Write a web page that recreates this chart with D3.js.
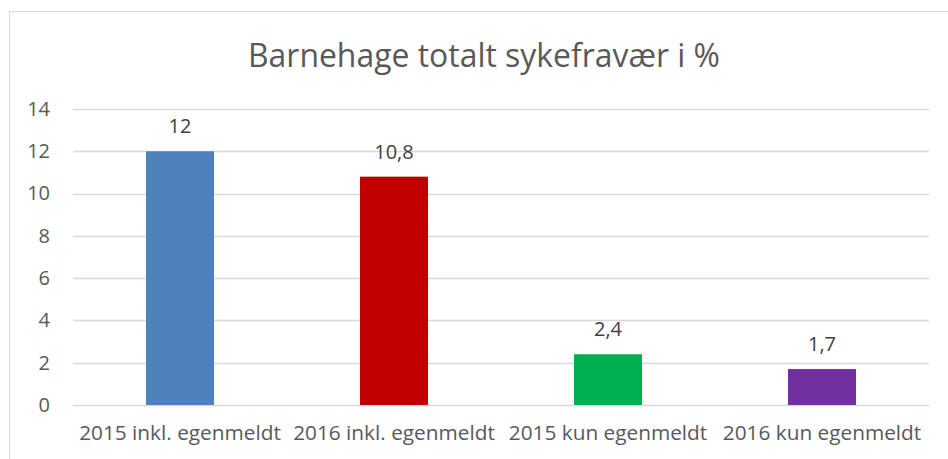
<!DOCTYPE html>
<html>
<head>
<meta charset="utf-8">
<script src="https://cdn.jsdelivr.net/npm/d3@7"></script>
<style>
  body { margin: 0; background: #fff; }
  text { font-family: "Open Sans", "Noto Sans", sans-serif; fill: #595959; }
</style>
</head>
<body>
<svg width="948" height="459"></svg>
<script>
var categories = ["2015 inkl. egenmeldt", "2016 inkl. egenmeldt", "2015 kun egenmeldt", "2016 kun egenmeldt"];
var values = [12, 10.8, 2.4, 1.7];
var valueLabels = ["12", "10,8", "2,4", "1,7"];
var barColors = ["#4f81bd", "#c00000", "#00b050", "#7030a0"];
var yTicks = [0, 2, 4, 6, 8, 10, 12, 14];
var title = "Barnehage totalt sykefravær i %";

var svg = d3.select("svg"),
    plotLeft = 73, plotRight = 929, plotTop = 109, plotBottom = 405;

// chart frame (cropped at right and bottom)
svg.append("path")
    .attr("d", "M9.5,459 V11.5 H948")
    .attr("fill", "none")
    .attr("stroke", "#d9d9d9");

var x = d3.scaleBand()
    .domain(categories)
    .range([plotLeft, plotRight])
    .paddingInner(0.682)
    .paddingOuter(0.341);

var y = d3.scaleLinear()
    .domain([0, 14])
    .range([plotBottom, plotTop]);

// gridlines
svg.append("g")
  .selectAll("line")
  .data(yTicks)
  .enter().append("line")
    .attr("x1", plotLeft).attr("x2", plotRight)
    .attr("y1", function(d) { return Math.round(y(d)) + 0.5; })
    .attr("y2", function(d) { return Math.round(y(d)) + 0.5; })
    .attr("stroke", "#d9d9d9")
    .attr("stroke-width", 1.3);

// y axis labels
var yAxis = svg.append("g")
    .attr("transform", "translate(" + plotLeft + ",0)")
    .call(d3.axisLeft(y).tickValues(yTicks).tickSize(0).tickPadding(23).tickFormat(d3.format("d")));
yAxis.select(".domain").remove();
yAxis.selectAll("text").style("font-size", "20px").attr("fill", "#595959");

// x axis labels
var xAxis = svg.append("g")
    .attr("transform", "translate(0," + plotBottom + ")")
    .call(d3.axisBottom(x).tickSize(0).tickPadding(20));
xAxis.select(".domain").remove();
xAxis.selectAll("text").style("font-size", "20.8px").attr("fill", "#595959");

// bars
svg.append("g")
  .selectAll("rect")
  .data(values)
  .enter().append("rect")
    .attr("x", function(d, i) { return x(categories[i]); })
    .attr("y", function(d) { return y(d); })
    .attr("width", x.bandwidth())
    .attr("height", function(d) { return y(0) - y(d); })
    .attr("fill", function(d, i) { return barColors[i]; });

// value labels
svg.append("g")
  .selectAll("text")
  .data(values)
  .enter().append("text")
    .attr("x", function(d, i) { return x(categories[i]) + x.bandwidth() / 2; })
    .attr("y", function(d) { return y(d) - 18; })
    .attr("text-anchor", "middle")
    .style("font-size", "20px")
    .style("fill", "#404040")
    .text(function(d, i) { return valueLabels[i]; });

// title
svg.append("text")
    .attr("x", 484)
    .attr("y", 67)
    .attr("text-anchor", "middle")
    .style("font-size", "33px")
    .style("fill", "#595959")
    .attr("textLength", 472)
    .attr("lengthAdjust", "spacingAndGlyphs")
    .text(title);
</script>
</body>
</html>
